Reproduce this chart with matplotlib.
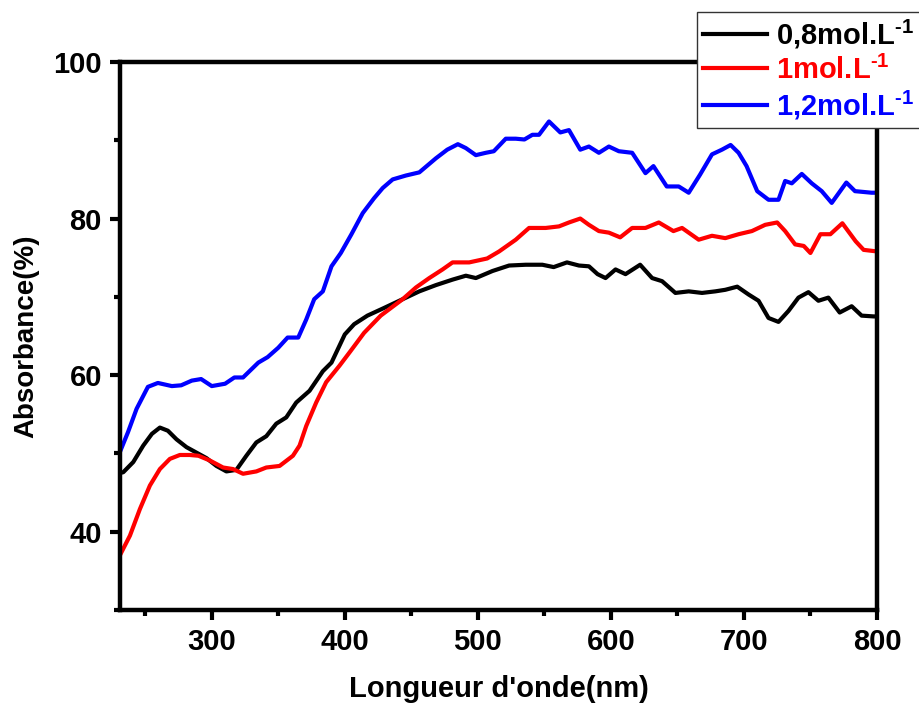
import matplotlib
matplotlib.use("Agg")
import matplotlib.pyplot as plt
from matplotlib.ticker import MultipleLocator

plt.rcParams['font.family'] = ['Liberation Sans', 'DejaVu Sans']
plt.rcParams['font.weight'] = 'bold'
plt.rcParams['mathtext.fontset'] = 'custom'
plt.rcParams['mathtext.rm'] = 'Liberation Sans:bold'
plt.rcParams['mathtext.bf'] = 'Liberation Sans:bold'
plt.rcParams['mathtext.default'] = 'bf'

# 0,8 mol/L
wl_08 = [231, 233.5, 241, 248.5, 255, 261, 267, 273.5, 281, 288.5, 296, 303.5, 311, 318.5,
         326, 333.5, 341, 348.5, 356, 363.5, 373.5, 383.5, 390, 400, 407, 417, 428.5,
         443.5, 456, 468.5, 481, 491, 498.5, 511, 523.5, 536, 548.5, 557, 567, 576, 583.5,
         590, 596, 603.5, 611, 622, 631, 638.5, 648.5, 658.5, 668.5, 678.5, 686, 695,
         703.5, 711, 718.5, 726, 733.5, 741, 748.5, 756, 763.5, 772, 781, 788.5, 797.5, 800]
abs_08 = [47.5, 47.6, 48.9, 51.0, 52.5, 53.3, 52.9, 51.8, 50.8, 50.1, 49.4, 48.4, 47.7, 47.9,
          49.7, 51.4, 52.2, 53.8, 54.6, 56.5, 58.0, 60.5, 61.6, 65.2, 66.5, 67.6, 68.5,
          69.7, 70.7, 71.5, 72.2, 72.7, 72.4, 73.3, 74.0, 74.1, 74.1, 73.8, 74.4, 74.0, 73.9,
          72.9, 72.4, 73.5, 72.9, 74.1, 72.4, 72.0, 70.5, 70.7, 70.5, 70.7, 70.9, 71.3,
          70.3, 69.5, 67.3, 66.8, 68.2, 69.9, 70.6, 69.5, 69.9, 68.0, 68.8, 67.6, 67.5, 67.5]

# 1 mol/L
wl_1 = [231, 238.5, 246, 253.5, 261, 268.5, 276, 283.5, 290, 298.5, 308.5, 316, 323.5, 333.5,
        341, 351, 361, 366, 371, 378.5, 386, 396, 404, 414.5, 427, 443.5, 453.5, 463.5,
        473.5, 481, 493.5, 507, 516, 528.5, 538.5, 551, 561, 568.5, 577, 583.5, 591, 598.5,
        607, 616, 626, 636, 647, 653.5, 666, 676, 686, 696, 706, 716, 725, 731, 738.5, 745,
        750, 757.5, 765, 774, 784, 790, 800]
abs_1 = [37.0, 39.5, 42.9, 45.9, 48.0, 49.3, 49.8, 49.8, 49.7, 49.1, 48.2, 48.0, 47.4, 47.7,
         48.2, 48.4, 49.7, 51.0, 53.5, 56.5, 59.1, 61.2, 63.0, 65.4, 67.6, 69.7, 71.2, 72.4,
         73.5, 74.4, 74.4, 74.9, 75.8, 77.3, 78.8, 78.8, 79.0, 79.5, 80.0, 79.2, 78.4, 78.2,
         77.6, 78.8, 78.8, 79.5, 78.4, 78.8, 77.3, 77.8, 77.5, 78.0, 78.4, 79.2, 79.5, 78.4,
         76.7, 76.5, 75.6, 78.0, 78.0, 79.4, 77.1, 76.0, 75.8]

# 1,2 mol/L
wl_12 = [231, 237, 243.5, 252, 259.5, 270, 277, 285, 292, 300, 310, 317, 323.5, 335, 342, 350,
         357, 365, 371, 377, 383.5, 390, 397, 405, 413.5, 422, 428.5, 436, 446, 456, 468.5,
         477, 485, 491, 498.5, 506, 512, 521, 528.5, 535, 541, 546, 553.5, 562, 568.5, 577,
         583.5, 591, 598.5, 606, 616, 626, 632, 642, 651, 658.5, 667, 676, 683.5, 690, 696,
         702, 710, 718.5, 726, 731, 736, 743.5, 751, 758.5, 766, 777, 783.5, 796, 800]
abs_12 = [50.2, 52.7, 55.7, 58.5, 59.0, 58.6, 58.7, 59.3, 59.5, 58.6, 58.9, 59.7, 59.7, 61.6,
          62.3, 63.5, 64.8, 64.8, 67.1, 69.7, 70.7, 73.9, 75.6, 78.0, 80.7, 82.6, 83.9, 85.0,
          85.5, 85.9, 87.7, 88.8, 89.5, 89.0, 88.1, 88.4, 88.6, 90.2, 90.2, 90.1, 90.7, 90.7,
          92.4, 91.0, 91.3, 88.8, 89.2, 88.4, 89.2, 88.6, 88.4, 85.8, 86.7, 84.1, 84.1, 83.3,
          85.6, 88.2, 88.8, 89.4, 88.4, 86.7, 83.5, 82.4, 82.4, 84.8, 84.5, 85.7, 84.5, 83.5,
          82.0, 84.6, 83.5, 83.3, 83.3]

labels = [r'0,8mol.L$^{\text{-1}}$', r'1mol.L$^{\text{-1}}$', r'1,2mol.L$^{\text{-1}}$']
colors = ['black', '#ff0000', '#0000ff']

fig = plt.figure(figsize=(9.2, 7.06), dpi=100)
ax = fig.add_axes([0.1304, 0.136, 0.8228, 0.7762])

ax.plot(wl_08, abs_08, color=colors[0], lw=3, label=labels[0])
ax.plot(wl_1, abs_1, color=colors[1], lw=3, label=labels[1])
ax.plot(wl_12, abs_12, color=colors[2], lw=3, label=labels[2])

ax.set_xlim(231, 800)
ax.set_ylim(30, 100)
ax.set_xticks([300, 400, 500, 600, 700, 800])
ax.set_yticks([40, 60, 80, 100])
ax.xaxis.set_minor_locator(MultipleLocator(50))
ax.yaxis.set_minor_locator(MultipleLocator(10))
ax.tick_params(which='major', direction='out', length=7, width=3, labelsize=21, pad=6)
ax.tick_params(which='minor', direction='out', length=4, width=3)
for s in ax.spines.values():
    s.set_linewidth(3.2)

ax.set_xlabel("Longueur d'onde(nm)", fontsize=21, fontweight='bold', labelpad=14)
ax.set_ylabel('Absorbance(%)', fontsize=20, fontweight='bold', labelpad=10)

leg = ax.legend(loc='upper right', bbox_to_anchor=(1.0, 1 - 12 / 706),
                bbox_transform=fig.transFigure, fontsize=21, handlelength=2.2,
                handletextpad=0.3, labelspacing=0.15, borderpad=0.2,
                borderaxespad=0, fancybox=False, framealpha=1)
leg.get_frame().set_edgecolor('#333333')
leg.get_frame().set_linewidth(1.0)
for t, c in zip(leg.get_texts(), colors):
    t.set_color(c)

fig.savefig('out.png', dpi=100)
